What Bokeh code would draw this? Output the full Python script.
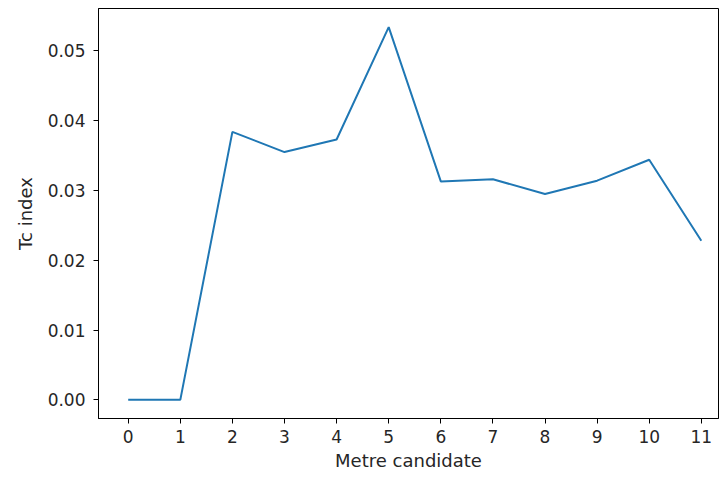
from bokeh.plotting import figure
from bokeh.models import Range1d, FixedTicker, NumeralTickFormatter
from bokeh.embed import file_html
from bokeh.resources import INLINE

candidates = [0, 1, 2, 3, 4, 5, 6, 7, 8, 9, 10, 11]
tc_index = [0.0, 0.0, 0.0384, 0.0355, 0.0373, 0.0534, 0.0313, 0.0316, 0.0295, 0.0314, 0.0344, 0.0228]
y_ticks = [0.0, 0.01, 0.02, 0.03, 0.04, 0.05]

p = figure(width=719, height=481, output_backend="svg", toolbar_location=None,
           x_range=Range1d(-0.57, 11.33), y_range=Range1d(-0.00267, 0.05607),
           min_border_left=98, min_border_right=1, min_border_top=8, min_border_bottom=63)
p.frame_width = 620
p.frame_height = 410

p.line(candidates, tc_index, line_color="#1f77b4", line_width=2)

p.xgrid.visible = False
p.ygrid.visible = False
p.outline_line_color = "black"
p.outline_line_width = 1
p.outline_line_alpha = 1

p.xaxis.ticker = FixedTicker(ticks=candidates)
p.yaxis.ticker = FixedTicker(ticks=y_ticks)
p.yaxis.formatter = NumeralTickFormatter(format="0.00")
p.xaxis.axis_label = "Metre candidate"
p.yaxis.axis_label = "Tc index"

for ax in (p.xaxis[0], p.yaxis[0]):
    ax.axis_line_color = "black"
    ax.major_tick_line_color = "black"
    ax.major_tick_out = 5
    ax.major_tick_in = 0
    ax.minor_tick_line_color = None
    ax.major_label_text_font = "DejaVu Sans"
    ax.major_label_text_font_size = "17px"
    ax.major_label_text_color = "#262626"
    ax.axis_label_text_font = "DejaVu Sans"
    ax.axis_label_text_font_size = "18px"
    ax.axis_label_text_font_style = "normal"
    ax.axis_label_text_color = "#262626"

p.xaxis.major_label_standoff = 6
p.xaxis.axis_label_standoff = 4
p.yaxis.major_label_standoff = 8
p.yaxis.axis_label_standoff = 9

open("out.html", "w").write(file_html(p, INLINE))
